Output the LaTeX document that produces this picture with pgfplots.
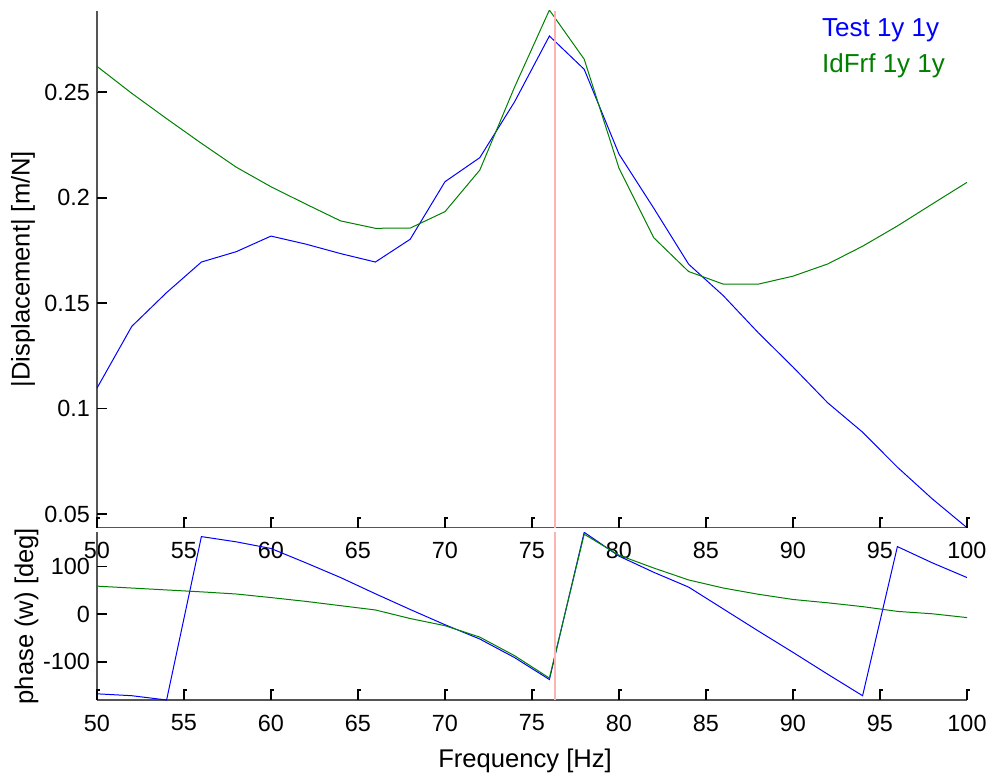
\documentclass[border=0pt]{standalone}
\usepackage{fontspec}
\setmainfont{Liberation Sans}
\usepackage{pgfplots}
\pgfplotsset{compat=1.18}
\usepackage{pgfplotstable}

\definecolor{mblue}{RGB}{0,0,255}
\definecolor{mgreen}{RGB}{0,128,0}
\definecolor{mpink}{RGB}{255,178,178}
\definecolor{axgray}{RGB}{85,85,85}

% magnitude, test vs identified FRF
\pgfplotstableread{
f    test    idfrf
50   0.1097  0.2623
52   0.1390  0.2495
54   0.1550  0.2375
56   0.1695  0.2258
58   0.1744  0.2145
60   0.1818  0.2052
62   0.1780  0.1970
64   0.1735  0.1890
66   0.1695  0.1855
68   0.1803  0.1856
70   0.2076  0.1934
72   0.2190  0.2131
74   0.2455  0.2525
76   0.2767  0.2890
78   0.2609  0.2657
80   0.2207  0.2140
82   0.1950  0.1810
84   0.1685  0.1650
86   0.1535  0.1590
88   0.1360  0.1590
90   0.1197  0.1628
92   0.1027  0.1686
94   0.0888  0.1770
96   0.0722  0.1866
98   0.0572  0.1970
100  0.0435  0.2073
}\magtable

% phase in degrees
\pgfplotstableread{
f    test   idfrf
50   -167   59
52   -171   55
54   -180   51
56   163    47
58   152    42.5
60   138    35
62   108    27
64   77     18
66   43     9
68   10     -9
70   -22    -24
72   -52    -48
74   -91    -87
76   -137   -134
78   172    168
80   122    124
82   88     97
84   57     72
86   11     55
88   -35    42
90   -80    31
92   -126   24
94   -171   16
96   142    6
98   108    1
100  77     -7
}\phasetable

\pgfplotsset{
  mstyle/.style={
    scale only axis,
    width=435pt,
    xmin=50, xmax=100,
    xtick={50,55,...,100},
    axis lines*=left,
    axis line style={draw=axgray, line width=0.6pt},
    tick align=inside,
    major tick length=5pt,
    tick style={draw=black, line width=0.8pt},
    /pgf/number format/assume math mode=true,
    ticklabel style={font=\fontsize{11.7}{14}\selectfont, text=black},
    xticklabel style={yshift=-3.8pt},
    label style={font=\fontsize{12.8}{15}\selectfont},
    every axis plot/.append style={line width=0.5pt},
  }
}

\begin{document}
\begin{tikzpicture}
\useasboundingbox (0,0) rectangle (496pt,389pt);

\begin{axis}[mstyle,
  name=mag,
  at={(48.5pt,125.15pt)}, anchor=south west,
  height=258.5pt,
  ymin=0.0435, ymax=0.2887,
  ytick={0.05,0.1,0.15,0.2,0.25},
  yticklabels={0.05,0.1,0.15,0.2,0.25},
  ylabel={|Displacement| [m/N]},
  ylabel style={at={(axis description cs:-0.085,0.5)}, anchor=center, rotate=0},
]
\addplot[mblue, no marks] table[x=f, y=test] {\magtable};
\addplot[mgreen, no marks] table[x=f, y=idfrf] {\magtable};
\addplot[mpink, line width=1pt, no marks] coordinates {(76.3,0.0435) (76.3,0.2887)};
\node[anchor=base west, inner sep=0, text=mblue, font=\fontsize{13}{15}\selectfont]
  at (rel axis cs:0.833,0.951) {Test 1y 1y};
\node[anchor=base west, inner sep=0, text=mgreen, font=\fontsize{13}{15}\selectfont]
  at (rel axis cs:0.833,0.880) {IdFrf 1y 1y};
\end{axis}

\begin{axis}[mstyle,
  name=phase,
  at={(48.5pt,39pt)}, anchor=south west,
  height=83.85pt,
  ymin=-180, ymax=172,
  ytick={-100,0,100},
  yticklabels={-100,0,100},
  xlabel={Frequency [Hz]},
  xlabel style={at={(axis description cs:0.492,-0.4037)}, anchor=base},
  ylabel={phase (w) [deg]},
  ylabel style={at={(axis description cs:-0.081,0.5)}, anchor=center, rotate=0},
]
\addplot[mblue, no marks] table[x=f, y=test] {\phasetable};
\addplot[mgreen, no marks] table[x=f, y=idfrf] {\phasetable};
\addplot[mpink, line width=1pt, no marks] coordinates {(76.3,-180) (76.3,172)};
\end{axis}

% inward tick marks with the small hook seen in the reference
\foreach \i in {0,...,10} {
  \draw[black, line width=0.8pt] ([xshift=\i*43.5pt]mag.south west) -- ++(0,5pt) -- ++(1.5pt,0);
  \draw[black, line width=0.8pt] ([xshift=\i*43.5pt]phase.south west) -- ++(0,5pt) -- ++(1.5pt,0);
}
\foreach \v in {0.05,0.1,0.15,0.2,0.25} {
  \pgfmathsetmacro\yy{(\v-0.0435)/0.2452*258.5}
  \draw[black, line width=0.8pt] ([yshift=\yy pt]mag.south west) -- ++(5pt,0);
}
\foreach \v in {-100,0,100} {
  \pgfmathsetmacro\yy{(\v+180)/352*83.85}
  \draw[black, line width=0.8pt] ([yshift=\yy pt]phase.south west) -- ++(5pt,0);
}
\end{tikzpicture}
\end{document}
